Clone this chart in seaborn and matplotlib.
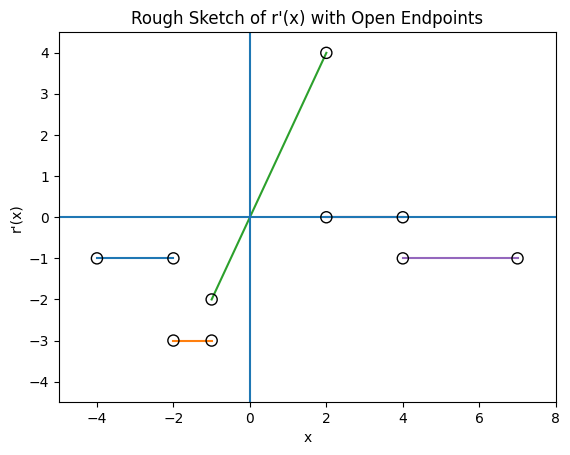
import matplotlib
matplotlib.use("Agg")
import matplotlib.pyplot as plt
import seaborn as sns
import pandas as pd

# piecewise segments of r'(x): (x_start, x_end, y_start, y_end)
seg_x0 = [-4, -2, -1, 2, 4]
seg_x1 = [-2, -1, 2, 4, 7]
seg_y0 = [-1, -3, -2, 0, -1]
seg_y1 = [-1, -3, 4, 0, -1]

fig, ax = plt.subplots(figsize=(5.7, 4.55), dpi=100)

for i in range(len(seg_x0)):
    df = pd.DataFrame({"x": [seg_x0[i], seg_x1[i]], "y": [seg_y0[i], seg_y1[i]]})
    sns.lineplot(data=df, x="x", y="y", color=f"C{i}", ax=ax, linewidth=1.5)

ax.axhline(0, color="C0", linewidth=1.5)
ax.axvline(0, color="C0", linewidth=1.5)

# open endpoints
pts = pd.DataFrame({"x": seg_x0 + seg_x1, "y": seg_y0 + seg_y1})
sns.scatterplot(data=pts, x="x", y="y", facecolor="none", edgecolor="black",
                s=64, linewidth=1.0, ax=ax, zorder=3)

ax.set_xlim(-5, 8)
ax.set_ylim(-4.5, 4.5)
ax.set_title("Rough Sketch of r'(x) with Open Endpoints")
ax.set_xlabel("x")
ax.set_ylabel("r'(x)")

plt.subplots_adjust(left=0.103, right=0.975, top=0.929, bottom=0.116)
plt.savefig("out.png", dpi=100)
